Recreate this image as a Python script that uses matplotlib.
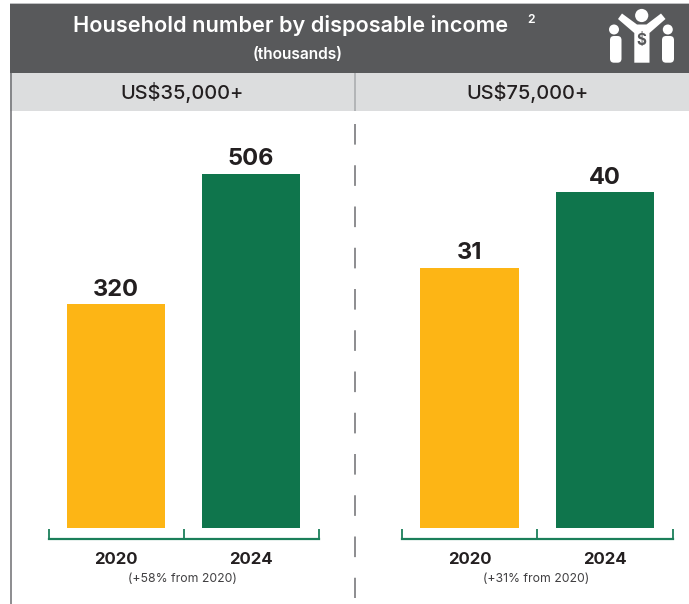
import matplotlib
matplotlib.use("Agg")
import matplotlib.pyplot as plt
from matplotlib.patches import Rectangle, Circle, Polygon, FancyBboxPatch

# Households in thousands, by income threshold
years = ["2020", "2024"]
households_35k = [320, 506]
households_75k = [31, 40]
bar_colors = ["#FDB515", "#0F754C"]
title_main = "Household number by disposable income"
title_sub = "(thousands)"
band_labels = ["US$35,000+", "US$75,000+"]
growth_notes = ["(+58% from 2020)", "(+31% from 2020)"]

W, H = 689, 604
DARK = "#58595B"
BAND = "#DCDDDE"
INK = "#231F20"
RULE = "#6D6E71"
FONT = "Inter"

fig = plt.figure(figsize=(W / 100, H / 100), dpi=100, facecolor="white")

# Full-figure layer measured in pixels for the header furniture
page = fig.add_axes([0, 0, 1, 1], zorder=0)
page.set_xlim(0, W)
page.set_ylim(H, 0)
page.axis("off")

page.add_patch(Rectangle((10, 3), W - 10, 1.2, fc="#BFC0C2", lw=0))
page.add_patch(Rectangle((10, 4), W - 10, 69, fc=DARK, lw=0))
page.add_patch(Rectangle((10, 73), W - 10, 38, fc=BAND, lw=0))
page.plot([10.5, 10.5], [73, H], color=RULE, lw=1.1, solid_capstyle="butt")
page.plot([354.7, 354.7], [73, 111], color="#A7A9AC", lw=1.1, solid_capstyle="butt")
page.plot([354.7, 354.7], [124, 598], color=RULE, lw=1.1, dashes=(13.5, 13.5))

page.text(290.5, 25.5, title_main, color="white", fontsize=15.6, fontweight="semibold",
          family=FONT, ha="center", va="center")
page.text(527, 20, "2", color="white", fontsize=8.8, fontweight="semibold",
          family=FONT, ha="left", va="center")
page.text(297.5, 54.5, title_sub, color="white", fontsize=11.2, fontweight="semibold",
          family=FONT, ha="center", va="center")
page.text(182.5, 92.5, band_labels[0], color=INK, fontsize=14.4, fontweight="medium",
          family=FONT, ha="center", va="center")
page.text(527, 92.5, band_labels[1], color=INK, fontsize=14.4, fontweight="medium",
          family=FONT, ha="center", va="center")

# Household icon: parent with raised arms between two children
for cx, cy, r in [(641.7, 15.5, 6.6), (614, 29.5, 5), (667.8, 29.5, 5)]:
    page.add_patch(Circle((cx, cy), r, fc="white", lw=0))
for x0, x1 in [(610, 621.5), (662, 674)]:
    page.add_patch(FancyBboxPatch((x0 + 4, 40), x1 - x0 - 8, 18.7,
                                  boxstyle="round,pad=4,rounding_size=4", fc="white", lw=0))
page.add_patch(Polygon([(618, 19), (622, 13.5), (637, 24.5), (646.5, 24.5), (661, 13.5), (665.5, 19),
                        (649.5, 33), (649.5, 62.7), (634.3, 62.7), (634.3, 33)], fc="white", lw=0))
page.text(641.8, 41, "$", color=DARK, fontsize=11, fontweight="bold", family=FONT,
          ha="center", va="center")


def income_panel(left, right, values, px_per_unit, note):
    """Two bars above a green bracket, on axes spanning the bracket's width."""
    baseline, top = 528, 130
    ax = fig.add_axes([left / W, 1 - baseline / H, (right - left) / W, (baseline - top) / H],
                      zorder=1)
    ax.set_xlim(-0.5, 1.5)
    ax.set_ylim(0, (baseline - top) / px_per_unit)
    ax.patch.set_alpha(0)
    for side in ("top", "left", "right"):
        ax.spines[side].set_visible(False)
    ax.spines["bottom"].set_position(("outward", 7.9))
    ax.spines["bottom"].set_color("#1B7F5A")
    ax.spines["bottom"].set_linewidth(1.6)
    ax.set_yticks([])
    ax.set_xticks([-0.5, 0.5, 1.5])
    ax.set_xticklabels([])
    ax.tick_params(axis="x", direction="in", length=7.5, width=1.3, color="#1B7F5A")

    positions = range(len(values))
    bars = ax.bar(positions, values, width=0.73, color=bar_colors, linewidth=0)
    for bar, value in zip(bars, values):
        ax.annotate(str(value), (bar.get_x() + bar.get_width() / 2, value),
                    xytext=(0, 14.5), textcoords="offset pixels", ha="center", va="center",
                    color=INK, fontsize=17, fontweight="bold", family=FONT)
    for pos, year in zip(positions, years):
        ax.annotate(year, (pos, 0), xytext=(0, -31), textcoords="offset pixels",
                    ha="center", va="center", color=INK, fontsize=12, fontweight="bold",
                    family=FONT)
    ax.annotate(note, (0.5, 0), xytext=(-1, -51), textcoords="offset pixels",
                ha="center", va="center", color="#414042", fontsize=8.8, family=FONT)


income_panel(48.5, 318.5, households_35k, 0.70, growth_notes[0])
income_panel(402, 672.5, households_75k, 8.39, growth_notes[1])

fig.savefig("out.png", dpi=100, facecolor="white")
